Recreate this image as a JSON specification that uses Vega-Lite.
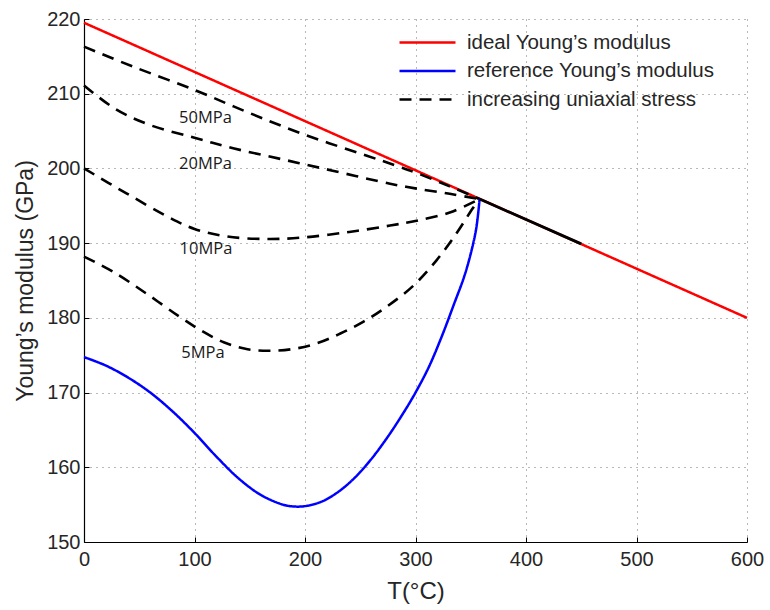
{
  "$schema": "https://vega.github.io/schema/vega-lite/v6.json",
  "autosize": "none",
  "width": 663,
  "height": 523,
  "padding": {"left": 84, "top": 19, "right": 23, "bottom": 68},
  "background": "white",
  "config": {
    "view": {"stroke": null},
    "font": "Liberation Sans",
    "axis": {
      "domainColor": "#000000",
      "domainWidth": 1.2,
      "tickColor": "#000000",
      "tickSize": -5,
      "tickWidth": 1,
      "labelFont": "Liberation Sans",
      "labelFontSize": 20,
      "labelColor": "#262626",
      "titleFont": "Liberation Sans",
      "titleFontWeight": "normal",
      "titleColor": "#262626",
      "grid": true,
      "gridColor": "#000000",
      "gridOpacity": 0.55,
      "gridDash": [1, 5],
      "gridWidth": 1
    },
    "legend": {
      "title": null,
      "orient": "none",
      "legendX": 328,
      "legendY": 8,
      "symbolType": "M-2,0H2",
      "symbolSize": 784,
      "symbolStrokeWidth": 2.6,
      "labelFont": "Liberation Sans",
      "labelFontSize": 20.5,
      "labelColor": "#262626",
      "labelOffset": 24,
      "labelLimit": 400,
      "rowPadding": 2.5
    }
  },
  "datasets": {
    "curves": [
      {"T": 0, "E": 219.5, "series": "ideal Young’s modulus", "curve": "ideal"},
      {"T": 600, "E": 180.0, "series": "ideal Young’s modulus", "curve": "ideal"},

      {"T": 0, "E": 174.75, "series": "reference Young’s modulus", "curve": "reference"},
      {"T": 20, "E": 173.6, "series": "reference Young’s modulus", "curve": "reference"},
      {"T": 40, "E": 172.0, "series": "reference Young’s modulus", "curve": "reference"},
      {"T": 60, "E": 170.0, "series": "reference Young’s modulus", "curve": "reference"},
      {"T": 80, "E": 167.5, "series": "reference Young’s modulus", "curve": "reference"},
      {"T": 100, "E": 164.6, "series": "reference Young’s modulus", "curve": "reference"},
      {"T": 120, "E": 161.4, "series": "reference Young’s modulus", "curve": "reference"},
      {"T": 140, "E": 158.5, "series": "reference Young’s modulus", "curve": "reference"},
      {"T": 160, "E": 156.3, "series": "reference Young’s modulus", "curve": "reference"},
      {"T": 180, "E": 155.0, "series": "reference Young’s modulus", "curve": "reference"},
      {"T": 190, "E": 154.75, "series": "reference Young’s modulus", "curve": "reference"},
      {"T": 200, "E": 154.8, "series": "reference Young’s modulus", "curve": "reference"},
      {"T": 215, "E": 155.4, "series": "reference Young’s modulus", "curve": "reference"},
      {"T": 230, "E": 156.7, "series": "reference Young’s modulus", "curve": "reference"},
      {"T": 245, "E": 158.6, "series": "reference Young’s modulus", "curve": "reference"},
      {"T": 260, "E": 161.1, "series": "reference Young’s modulus", "curve": "reference"},
      {"T": 275, "E": 164.1, "series": "reference Young’s modulus", "curve": "reference"},
      {"T": 290, "E": 167.5, "series": "reference Young’s modulus", "curve": "reference"},
      {"T": 300, "E": 170.0, "series": "reference Young’s modulus", "curve": "reference"},
      {"T": 312, "E": 173.4, "series": "reference Young’s modulus", "curve": "reference"},
      {"T": 324, "E": 177.6, "series": "reference Young’s modulus", "curve": "reference"},
      {"T": 335, "E": 181.9, "series": "reference Young’s modulus", "curve": "reference"},
      {"T": 344, "E": 185.5, "series": "reference Young’s modulus", "curve": "reference"},
      {"T": 350, "E": 188.6, "series": "reference Young’s modulus", "curve": "reference"},
      {"T": 355, "E": 192.0, "series": "reference Young’s modulus", "curve": "reference"},
      {"T": 358, "E": 195.9, "series": "reference Young’s modulus", "curve": "reference"},

      {"T": 0, "E": 188.2, "series": "increasing uniaxial stress", "curve": "5MPa"},
      {"T": 26, "E": 186.2, "series": "increasing uniaxial stress", "curve": "5MPa"},
      {"T": 56, "E": 183.3, "series": "increasing uniaxial stress", "curve": "5MPa"},
      {"T": 86, "E": 180.2, "series": "increasing uniaxial stress", "curve": "5MPa"},
      {"T": 106, "E": 178.3, "series": "increasing uniaxial stress", "curve": "5MPa"},
      {"T": 127, "E": 176.7, "series": "increasing uniaxial stress", "curve": "5MPa"},
      {"T": 148, "E": 175.8, "series": "increasing uniaxial stress", "curve": "5MPa"},
      {"T": 169, "E": 175.6, "series": "increasing uniaxial stress", "curve": "5MPa"},
      {"T": 190, "E": 175.85, "series": "increasing uniaxial stress", "curve": "5MPa"},
      {"T": 211, "E": 176.6, "series": "increasing uniaxial stress", "curve": "5MPa"},
      {"T": 232, "E": 177.9, "series": "increasing uniaxial stress", "curve": "5MPa"},
      {"T": 253, "E": 179.5, "series": "increasing uniaxial stress", "curve": "5MPa"},
      {"T": 274, "E": 181.5, "series": "increasing uniaxial stress", "curve": "5MPa"},
      {"T": 298, "E": 184.3, "series": "increasing uniaxial stress", "curve": "5MPa"},
      {"T": 319, "E": 187.7, "series": "increasing uniaxial stress", "curve": "5MPa"},
      {"T": 337, "E": 191.3, "series": "increasing uniaxial stress", "curve": "5MPa"},
      {"T": 352, "E": 194.7, "series": "increasing uniaxial stress", "curve": "5MPa"},
      {"T": 358, "E": 195.9, "series": "increasing uniaxial stress", "curve": "5MPa"},

      {"T": 0, "E": 200.0, "series": "increasing uniaxial stress", "curve": "10MPa"},
      {"T": 38, "E": 196.7, "series": "increasing uniaxial stress", "curve": "10MPa"},
      {"T": 75, "E": 193.6, "series": "increasing uniaxial stress", "curve": "10MPa"},
      {"T": 100, "E": 191.9, "series": "increasing uniaxial stress", "curve": "10MPa"},
      {"T": 129, "E": 190.9, "series": "increasing uniaxial stress", "curve": "10MPa"},
      {"T": 165, "E": 190.55, "series": "increasing uniaxial stress", "curve": "10MPa"},
      {"T": 198, "E": 190.75, "series": "increasing uniaxial stress", "curve": "10MPa"},
      {"T": 240, "E": 191.5, "series": "increasing uniaxial stress", "curve": "10MPa"},
      {"T": 277, "E": 192.35, "series": "increasing uniaxial stress", "curve": "10MPa"},
      {"T": 301, "E": 193.0, "series": "increasing uniaxial stress", "curve": "10MPa"},
      {"T": 331, "E": 194.1, "series": "increasing uniaxial stress", "curve": "10MPa"},
      {"T": 358, "E": 195.9, "series": "increasing uniaxial stress", "curve": "10MPa"},

      {"T": 0, "E": 211.1, "series": "increasing uniaxial stress", "curve": "20MPa"},
      {"T": 29, "E": 207.9, "series": "increasing uniaxial stress", "curve": "20MPa"},
      {"T": 59, "E": 205.85, "series": "increasing uniaxial stress", "curve": "20MPa"},
      {"T": 100, "E": 204.1, "series": "increasing uniaxial stress", "curve": "20MPa"},
      {"T": 135, "E": 202.7, "series": "increasing uniaxial stress", "curve": "20MPa"},
      {"T": 180, "E": 201.2, "series": "increasing uniaxial stress", "curve": "20MPa"},
      {"T": 225, "E": 199.7, "series": "increasing uniaxial stress", "curve": "20MPa"},
      {"T": 277, "E": 197.95, "series": "increasing uniaxial stress", "curve": "20MPa"},
      {"T": 301, "E": 197.3, "series": "increasing uniaxial stress", "curve": "20MPa"},
      {"T": 331, "E": 196.6, "series": "increasing uniaxial stress", "curve": "20MPa"},
      {"T": 358, "E": 195.9, "series": "increasing uniaxial stress", "curve": "20MPa"},

      {"T": 0, "E": 216.3, "series": "increasing uniaxial stress", "curve": "50MPa"},
      {"T": 44, "E": 213.65, "series": "increasing uniaxial stress", "curve": "50MPa"},
      {"T": 100, "E": 210.5, "series": "increasing uniaxial stress", "curve": "50MPa"},
      {"T": 150, "E": 207.4, "series": "increasing uniaxial stress", "curve": "50MPa"},
      {"T": 200, "E": 204.5, "series": "increasing uniaxial stress", "curve": "50MPa"},
      {"T": 256, "E": 201.7, "series": "increasing uniaxial stress", "curve": "50MPa"},
      {"T": 286, "E": 200.2, "series": "increasing uniaxial stress", "curve": "50MPa"},
      {"T": 301, "E": 199.4, "series": "increasing uniaxial stress", "curve": "50MPa"},
      {"T": 331, "E": 197.6, "series": "increasing uniaxial stress", "curve": "50MPa"},
      {"T": 358, "E": 195.9, "series": "increasing uniaxial stress", "curve": "50MPa"}
    ],
    "merged": [
      {"T": 358, "E": 195.9},
      {"T": 450, "E": 189.9}
    ],
    "stressLabels": [
      {"T": 86, "E": 206.75, "label": "50MPa"},
      {"T": 86, "E": 200.65, "label": "20MPa"},
      {"T": 86.5, "E": 189.25, "label": "10MPa"},
      {"T": 88, "E": 175.35, "label": "5MPa"}
    ]
  },
  "encoding": {
    "x": {
      "field": "T",
      "type": "quantitative",
      "scale": {"domain": [0, 600], "nice": false, "zero": false},
      "axis": {
        "title": "T(°C)",
        "titleFontSize": 24,
        "titlePadding": 10,
        "values": [0, 100, 200, 300, 400, 500, 600],
        "labelPadding": 12,
        "labelFlush": false
      }
    },
    "y": {
      "field": "E",
      "type": "quantitative",
      "scale": {"domain": [150, 220], "nice": false, "zero": false},
      "axis": {
        "title": "Young’s modulus (GPa)",
        "titleFontSize": 23,
        "titlePadding": 9,
        "values": [150, 160, 170, 180, 190, 200, 210, 220],
        "labelPadding": 9,
        "labelFlush": false
      }
    }
  },
  "layer": [
    {
      "data": {"name": "curves"},
      "transform": [{"filter": "datum.curve === 'ideal'"}],
      "mark": {"type": "line", "strokeWidth": 2.5},
      "encoding": {
        "color": {
          "field": "series",
          "type": "nominal",
          "scale": {
            "domain": ["ideal Young’s modulus", "reference Young’s modulus", "increasing uniaxial stress"],
            "range": ["#ff0000", "#0000ff", "#000000"]
          }
        },
        "strokeDash": {
          "field": "series",
          "type": "nominal",
          "scale": {
            "domain": ["ideal Young’s modulus", "reference Young’s modulus", "increasing uniaxial stress"],
            "range": [[1, 0], [1, 0], [12, 8]]
          }
        }
      }
    },
    {
      "data": {"name": "curves"},
      "transform": [{"filter": "datum.series === 'increasing uniaxial stress'"}],
      "mark": {"type": "line", "strokeWidth": 2.6, "interpolate": "catmull-rom"},
      "encoding": {
        "color": {"field": "series", "type": "nominal"},
        "strokeDash": {"field": "series", "type": "nominal"},
        "detail": {"field": "curve"}
      }
    },
    {
      "data": {"name": "curves"},
      "transform": [{"filter": "datum.curve === 'reference'"}],
      "mark": {"type": "line", "strokeWidth": 2.5, "interpolate": "catmull-rom"},
      "encoding": {
        "color": {"field": "series", "type": "nominal"},
        "strokeDash": {"field": "series", "type": "nominal"}
      }
    },
    {
      "data": {"name": "merged"},
      "mark": {"type": "line", "strokeWidth": 2.8, "color": "#000000"},
      "encoding": {}
    },
    {
      "data": {"name": "stressLabels"},
      "mark": {"type": "text", "align": "left", "baseline": "middle", "font": "Open Sans", "fontSize": 16.5, "color": "#1a1a1a"},
      "encoding": {"text": {"field": "label"}}
    }
  ]
}
